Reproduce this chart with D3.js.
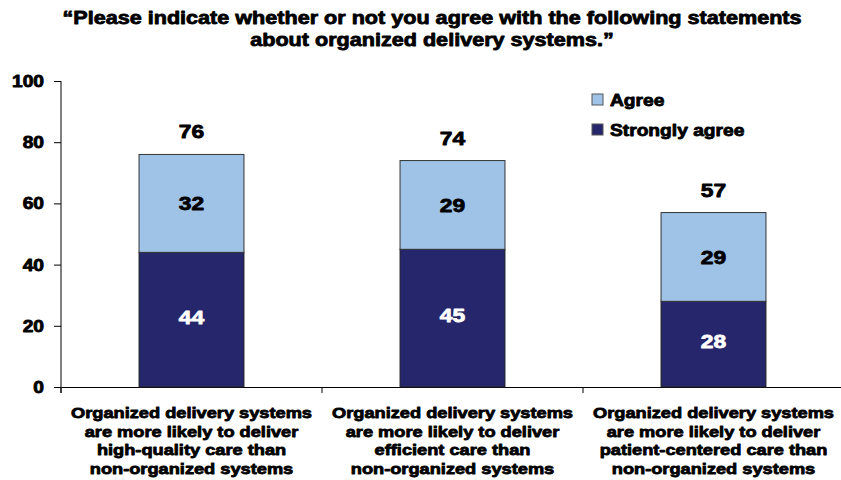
<!DOCTYPE html>
<html><head><meta charset="utf-8">
<script src="https://cdn.jsdelivr.net/npm/d3@7"></script>
<style>
body{margin:0;background:#fff;}
text{font-family:"Liberation Sans",Arial,sans-serif;font-weight:bold;fill:#000;}
.heavy{stroke:#000;stroke-width:0.8px;paint-order:stroke;stroke-linejoin:round;}
</style></head><body>
<svg id="c" width="841" height="480"></svg>
<script>
const titleLines = ["\u201cPlease indicate whether or not you agree with the following statements", "about organized delivery systems.\u201d"];
const categories = ["high-quality", "efficient", "patient-centered"];
const categoryLabels = [
  ["Organized delivery systems", "are more likely to deliver", "high-quality care than", "non-organized systems"],
  ["Organized delivery systems", "are more likely to deliver", "efficient care than", "non-organized systems"],
  ["Organized delivery systems", "are more likely to deliver", "patient-centered care than", "non-organized systems"]
];
const stronglyAgree = [44, 45, 28];
const agree = [32, 29, 29];
const totals = [76, 74, 57];
const seriesNames = ["Agree", "Strongly agree"];
const yTicks = [0, 20, 40, 60, 80, 100];

const colors = {"Strongly agree": "#26266c", "Agree": "#9fc3e7"};
const SX = 1.2; // horizontal widening to mimic the heavy, wide typeface
const svg = d3.select("#c");
const x = d3.scaleBand().domain(categories).range([61, 844]).paddingInner(0.598).paddingOuter(0.299);
const y = d3.scaleLinear().domain([0, 100]).range([387, 81]);

function label(parent, px, py, str, size, anchor, fill) {
  const g = parent.append("g").attr("transform", `translate(${px},${py}) scale(${SX},1)`);
  g.append("text").attr("class", "heavy").attr("text-anchor", anchor)
    .style("font-size", size + "px").style("fill", fill || "#000").style("stroke", fill || "#000").text(str);
  return g;
}

titleLines.forEach((t, i) => label(svg, 432, 24 + i * 21.5, t, 18, "middle"));

// y axis
const ya = svg.append("g").attr("transform", "translate(61,0)")
  .call(d3.axisLeft(y).tickValues(yTicks).tickSize(7).tickFormat(""));
ya.select(".domain").attr("stroke", "#000").attr("d", "M0,81V393");
ya.selectAll(".tick line").attr("stroke", "#000");
yTicks.forEach(v => label(svg, 44, y(v) + 6, v, 16, "end"));

// x axis
const xa = svg.append("g").attr("transform", "translate(0,387)")
  .call(d3.axisBottom(x).tickValues([]).tickSizeOuter(0));
xa.select(".domain").attr("stroke", "#000");
svg.append("g").selectAll("line").data(categories).join("line")
  .attr("x1", c => x(c) + x.bandwidth() / 2 - x.step() / 2)
  .attr("x2", c => x(c) + x.bandwidth() / 2 - x.step() / 2)
  .attr("y1", 387).attr("y2", 393).attr("stroke", "#000");

// bars
const data = categories.map((c, i) => ({c, strong: stronglyAgree[i], agree: agree[i], total: totals[i]}));
const g = svg.append("g");
g.selectAll("rect.s").data(data).join("rect").attr("class", "s")
  .attr("x", d => x(d.c)).attr("width", x.bandwidth())
  .attr("y", d => y(d.strong)).attr("height", d => y(0) - y(d.strong))
  .attr("fill", colors["Strongly agree"]).attr("stroke", "#222").attr("stroke-width", 1);
g.selectAll("rect.a").data(data).join("rect").attr("class", "a")
  .attr("x", d => x(d.c)).attr("width", x.bandwidth())
  .attr("y", d => y(d.strong + d.agree)).attr("height", d => y(d.strong) - y(d.strong + d.agree))
  .attr("fill", colors["Agree"]).attr("stroke", "#333").attr("stroke-width", 1);

// value labels
data.forEach(d => {
  const cx = x(d.c) + x.bandwidth() / 2;
  label(g, cx, y(d.strong / 2) + 4, d.strong, 19, "middle", "#fff");
  label(g, cx, y(d.strong + d.agree / 2) + 7, d.agree, 19, "middle");
  label(g, cx, y(d.total) - 16, d.total, 19, "middle");
});

// category labels
categories.forEach((c, i) => {
  categoryLabels[i].forEach((line, j) => label(svg, x(c) + x.bandwidth() / 2, 418 + j * 18.7, line, 15.2, "middle"));
});

// legend
const lg = svg.append("g");
seriesNames.forEach((s, i) => {
  lg.append("rect").attr("x", 592).attr("y", 94 + i * 30).attr("width", 11).attr("height", 11)
    .attr("fill", colors[s]).attr("stroke", "#555").attr("stroke-width", 1);
  label(lg, 610, 106 + i * 30, s, 16, "start");
});
</script></body></html>
